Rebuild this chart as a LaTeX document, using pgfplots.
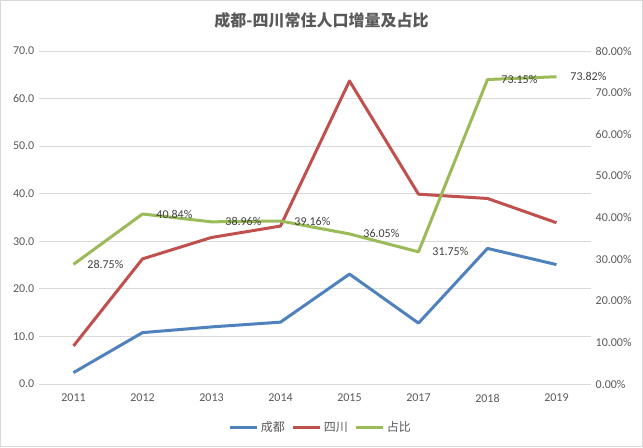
\documentclass[border=0pt]{standalone}
\usepackage{fontspec}
\setmainfont{Carlito}
\newfontfamily\cjk{Noto Sans CJK SC}
\usepackage{pgfplots}
\pgfplotsset{compat=1.18}
\definecolor{cdblue}{HTML}{4F81BD}
\definecolor{scred}{HTML}{C0504D}
\definecolor{ratiogreen}{HTML}{9BBB59}
\definecolor{ticktext}{HTML}{595959}
\definecolor{labeltext}{HTML}{404040}
\definecolor{gridgray}{HTML}{D9D9D9}
\pgfplotsset{
  base/.style={scale only axis,width=414pt,height=249.75pt,
    at={(29.25pt,47.25pt)},anchor=south west,
    xmin=-0.5,xmax=7.5,xtick={0,...,7},
    axis line style={draw=none},major tick style={draw=none},
    tick label style={font=\fontsize{9}{10}\selectfont,text=ticktext},
    /pgf/number format/assume math mode=true},
  series/.style={line width=2.25pt,line join=round,mark=none,#1},
}
\begin{document}
\begin{tikzpicture}
\draw[gridgray,line width=0.75pt] (0.375pt,0.375pt) rectangle (481.875pt,334.875pt);
\node[font=\cjk\bfseries\fontsize{12}{14}\selectfont,text=ticktext]
  at (241.1pt,320.25pt) {成都-四川常住人口增量及占比};
% left axis: increments
\begin{axis}[base,ymin=0,ymax=70,ytick={0,10,...,70},
  ymajorgrids,grid style={gridgray,line width=0.75pt},
  yticklabel={\pgfmathprintnumber[fixed,fixed zerofill,precision=1]{\tick}},
  xticklabels={2011,2012,2013,2014,2015,2017,2018,2019},
  xticklabel style={yshift=-4pt}]
\addplot[series=cdblue] coordinates
  {(0,2.4)(1,10.8)(2,12.0)(3,13.0)(4,23.1)(5,12.8)(6,28.5)(7,25.1)};
\addplot[series=scred] coordinates
  {(0,8.0)(1,26.3)(2,30.8)(3,33.2)(4,63.7)(5,39.9)(6,39.0)(7,33.9)};
\end{axis}
% right axis: share
\begin{axis}[base,ymin=0,ymax=80,ytick={0,10,...,80},
  axis y line*=right,axis x line=none,
  yticklabel={\pgfmathprintnumber[fixed,fixed zerofill,precision=2]{\tick}\%},
  legend style={at={(0.511,-0.132)},anchor=center,draw=none,fill=none,
    legend columns=3,font=\cjk\fontsize{9}{10}\selectfont,text=ticktext,
    /tikz/every even column/.append style={column sep=3pt}},
  legend image code/.code={\draw[#1] (0pt,0pt)--(20pt,0pt);}]
\addlegendimage{series=cdblue}
\addlegendentry{成都}
\addlegendimage{series=scred}
\addlegendentry{四川}
\addplot[series=ratiogreen,
  nodes near coords={\pgfmathprintnumber[fixed,fixed zerofill,precision=2]{\pgfplotspointmeta}\%},
  every node near coord/.style={anchor=west,xshift=6pt,
    font=\fontsize{9}{10}\selectfont,text=labeltext}] coordinates
  {(0,28.75)(1,40.84)(2,38.96)(3,39.16)(4,36.05)(5,31.75)(6,73.15)(7,73.82)};
\addlegendentry{占比}
\end{axis}
\end{tikzpicture}
\end{document}
